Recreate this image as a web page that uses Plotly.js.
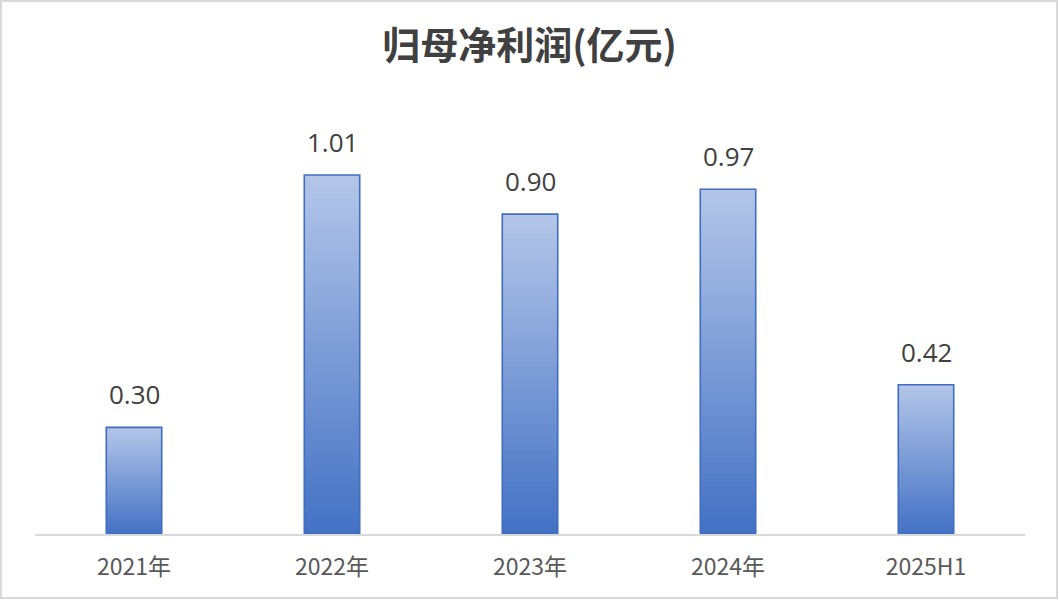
<!DOCTYPE html>
<html>
<head>
<meta charset="utf-8">
<script src="https://cdn.plot.ly/plotly-3.0.1.min.js"></script>
<style>
  body { margin: 0; padding: 0; background: #fff; }
  #wrap { position: relative; width: 1059px; height: 603px; }
  #chart { position: absolute; left: 0; top: 0; width: 1059px; height: 603px; }
  #frame { position: absolute; left: 0; top: 0; width: 1054px; height: 595px; border: 2px solid #d9d9d9; pointer-events: none; }
</style>
</head>
<body>
<div id="wrap"><div id="chart"></div><div id="frame"></div></div>
<script>
const categories = ["2021年", "2022年", "2023年", "2024年", "2025H1"];
const values = [0.30, 1.01, 0.90, 0.97, 0.42];
const valueLabels = ["0.30", "1.01", "0.90", "0.97", "0.42"];
const chartTitle = "归母净利润(亿元)";

const halfWidth = 0.14;
const traces = [];
values.forEach(function (v, i) {
  traces.push({
    type: "scatter",
    mode: "lines",
    x: [i - halfWidth, i + halfWidth, i + halfWidth, i - halfWidth, i - halfWidth],
    y: [0, 0, v, v, 0],
    fill: "toself",
    fillcolor: "#7f9fd8",
    fillgradient: {
      type: "vertical",
      colorscale: [[0, "#4371c4"], [1, "#b4c6e8"]]
    },
    line: { color: "#3f6dc2", width: 1.6 },
    hoverinfo: "skip",
    showlegend: false
  });
});

const annotations = values.map(function (v, i) {
  return {
    x: i, y: v, xref: "x", yref: "y",
    text: valueLabels[i],
    showarrow: false,
    yanchor: "bottom",
    yshift: 13,
    font: { family: "Open Sans, Noto Sans, sans-serif", size: 26, color: "#404040" }
  };
});

const layout = {
  width: 1059, height: 603,
  margin: { l: 35, r: 34, t: 95, b: 69 },
  paper_bgcolor: "#ffffff",
  plot_bgcolor: "#ffffff",
  title: {
    text: "<b>" + chartTitle + "</b>",
    x: 0.5, xanchor: "center",
    y: 1 - 46 / 603, yanchor: "middle",
    font: { family: "Noto Sans CJK SC, sans-serif", size: 38, color: "#404040" }
  },
  xaxis: {
    range: [-0.5, 4.5],
    tickvals: categories.map(function (c, i) { return i; }),
    ticktext: categories,
    showgrid: false, zeroline: false,
    showline: true, linecolor: "#d9d9d9", linewidth: 1.5,
    ticks: "",
    ticklabelstandoff: 12,
    tickfont: { family: "Noto Sans CJK SC, sans-serif", size: 23, color: "#595959" },
    fixedrange: true
  },
  yaxis: {
    range: [0, 1.235],
    visible: false,
    showgrid: false, zeroline: false,
    fixedrange: true
  },
  annotations: annotations,
  showlegend: false
};

Plotly.newPlot("chart", traces, layout, { displayModeBar: false, staticPlot: true });
</script>
</body>
</html>
